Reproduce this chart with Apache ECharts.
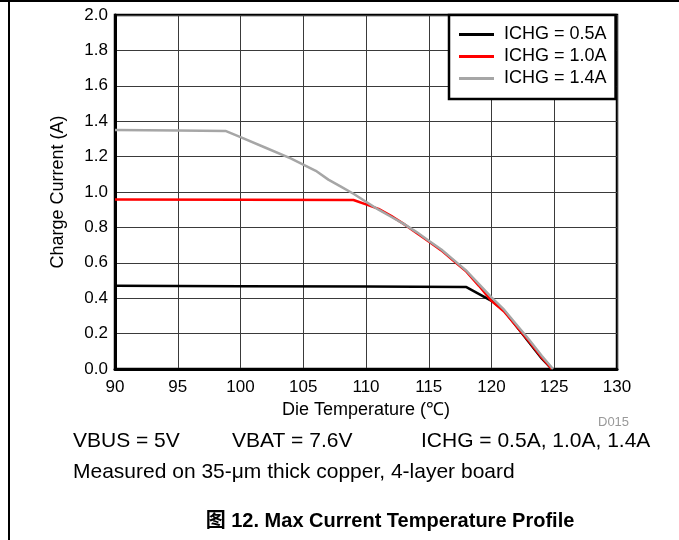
<!DOCTYPE html>
<html>
<head>
<meta charset="utf-8">
<script src="https://cdn.jsdelivr.net/npm/echarts@6/dist/echarts.min.js"></script>
<style>
html,body{margin:0;padding:0;background:#fff;}
#chart{width:679px;height:540px;}
</style>
</head>
<body>
<div id="chart"></div>
<script>
// ---- data ----
const seriesNames = ['ICHG = 0.5A', 'ICHG = 1.0A', 'ICHG = 1.4A'];

const tempA05 = [90, 100, 110, 118, 120, 121, 122, 123, 124, 124.8];
const currA05 = [0.47, 0.468, 0.466, 0.463, 0.385, 0.33, 0.24, 0.15, 0.06, 0.0];

const tempA10 = [90, 100, 109, 110, 111, 112, 113, 114, 115, 116, 117, 118, 119, 120, 121, 122, 123, 124, 124.8];
const currA10 = [0.958, 0.956, 0.955, 0.93, 0.905, 0.865, 0.82, 0.77, 0.72, 0.67, 0.61, 0.55, 0.47, 0.385, 0.325, 0.24, 0.155, 0.065, 0.0];

const tempA14 = [90, 95, 98.8, 100, 102, 104, 105, 106, 107, 108, 109, 110, 111, 112, 113, 114, 115, 116, 117, 118, 119, 120, 121, 122, 123, 124, 124.9];
const currA14 = [1.35, 1.348, 1.345, 1.31, 1.25, 1.19, 1.155, 1.12, 1.07, 1.03, 0.99, 0.945, 0.9, 0.86, 0.82, 0.775, 0.725, 0.675, 0.615, 0.555, 0.48, 0.405, 0.335, 0.25, 0.165, 0.075, 0.0];

const xAxisTitle = 'Die Temperature (\u2103)';
const yAxisTitle = 'Charge Current (A)';
const noteLine1 = ['VBUS = 5V', 'VBAT = 7.6V', 'ICHG = 0.5A, 1.0A, 1.4A'];
const noteLine2 = 'Measured on 35-\u03bcm thick copper, 4-layer board';
const captionText = '\u56fe 12. Max Current Temperature Profile';
const codeText = 'D015';

// ---- build ----
function zip(xs, ys) { return xs.map((x, i) => [x, ys[i]]); }
const FONT = 'Liberation Sans, Arial, Helvetica, sans-serif';
const colors = ['#000000', '#ff0000', '#a6a6a6'];
const dataSets = [zip(tempA05, currA05), zip(tempA10, currA10), zip(tempA14, currA14)];

const chart = echarts.init(document.getElementById('chart'), null, {renderer: 'canvas'});
const option = {
  animation: false,
  backgroundColor: '#fff',
  grid: {left: 115, top: 15, width: 502, height: 354, show: true, borderColor: '#000', borderWidth: 2.5, backgroundColor: 'transparent'},
  legend: {
    orient: 'vertical', left: 449, top: 15,
    padding: [9, 9, 10, 10], itemGap: 1,
    icon: 'rect', itemWidth: 35, itemHeight: 3,
    borderColor: '#000', borderWidth: 2.5, backgroundColor: '#fff',
    textStyle: {fontFamily: FONT, fontSize: 18, color: '#000', lineHeight: 21, padding: [0, 0, 0, 5]},
    data: seriesNames
  },
  xAxis: {
    type: 'value', min: 90, max: 130, interval: 5,
    name: xAxisTitle, nameLocation: 'middle', nameGap: 32,
    nameTextStyle: {fontFamily: FONT, fontSize: 18, color: '#000'},
    axisLine: {show: true, lineStyle: {color: '#000', width: 3}},
    axisTick: {show: false},
    axisLabel: {fontFamily: FONT, fontSize: 17, color: '#000', margin: 10},
    splitLine: {show: true, lineStyle: {color: '#3a3a3a', width: 1}}
  },
  yAxis: {
    type: 'value', min: 0, max: 2, interval: 0.2,
    name: yAxisTitle, nameLocation: 'middle', nameGap: 48, nameRotate: 90,
    nameTextStyle: {fontFamily: FONT, fontSize: 18, color: '#000'},
    axisLine: {show: true, lineStyle: {color: '#000', width: 3}},
    axisTick: {show: false},
    axisLabel: {fontFamily: FONT, fontSize: 17, color: '#000', margin: 7, formatter: v => v.toFixed(1)},
    splitLine: {show: true, lineStyle: {color: '#3a3a3a', width: 1}}
  },
  series: seriesNames.map((n, i) => ({
    name: n, type: 'line', data: dataSets[i], symbol: 'none', smooth: false,
    lineStyle: {color: colors[i], width: 2.5}, itemStyle: {color: colors[i]}, z: 3 + i
  })),
  graphic: [
    {type: 'line', shape: {x1: 0, y1: 1, x2: 679, y2: 1}, style: {stroke: '#000', lineWidth: 2}},
    {type: 'line', shape: {x1: 9, y1: 0, x2: 9, y2: 540}, style: {stroke: '#000', lineWidth: 2}},
    {type: 'text', style: {x: 598, y: 422, text: codeText, font: '13px ' + FONT, fill: '#999', verticalAlign: 'middle'}},
    {type: 'text', style: {x: 73, y: 441, text: noteLine1[0], font: '21px ' + FONT, fill: '#000', verticalAlign: 'middle'}},
    {type: 'text', style: {x: 232, y: 441, text: noteLine1[1], font: '21px ' + FONT, fill: '#000', verticalAlign: 'middle'}},
    {type: 'text', style: {x: 421, y: 441, text: noteLine1[2], font: '21px ' + FONT, fill: '#000', verticalAlign: 'middle'}},
    {type: 'text', style: {x: 73, y: 472, text: noteLine2, font: '21px ' + FONT, fill: '#000', verticalAlign: 'middle'}},
    {type: 'text', style: {x: 390, y: 521, text: captionText, font: 'bold 20px ' + FONT + ', Noto Sans CJK SC', fill: '#000', align: 'center', verticalAlign: 'middle'}}
  ]
};
chart.setOption(option);
</script>
</body>
</html>
